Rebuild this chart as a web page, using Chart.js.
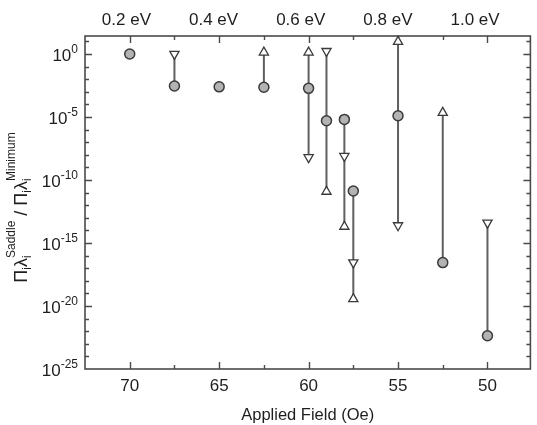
<!DOCTYPE html>
<html><head><meta charset="utf-8">
<script src="https://cdn.jsdelivr.net/npm/chart.js@4/dist/chart.umd.min.js"></script>
<style>html,body{margin:0;padding:0;background:#fff}#c{display:block}</style>
</head><body>
<canvas id="c" width="537" height="425"></canvas>
<script>
// ---- data ----
const fields = [70, 67.5, 65, 62.5, 60, 59, 58, 57.5, 55, 52.5, 50];           // Applied Field (Oe)
const ratioCircle = [1.0, 2.9e-3, 2.5e-3, 2.3e-3, 1.9e-3, 5.1e-6, 6.5e-6, 1.35e-11, 1.26e-5, 2.8e-17, 4.4e-23];
const ratioUp     = [null, null, null, 1.35, 1.35, 1.2e-11, 2.0e-14, 3.6e-20, 9.5, 2.2e-5, null];
const ratioDown   = [null, 1.0, null, null, 6.3e-9, 1.7, 7.9e-9, 2.8e-17, 2.5e-14, null, 4.0e-14];
const fieldTicks  = [70, 65, 60, 55, 50];
const energyTicks = [0.2, 0.4, 0.6, 0.8, 1.0];
const energyLabels = ['0.2 eV', '0.4 eV', '0.6 eV', '0.8 eV', '1.0 eV'];
const decadeExponents = [0, -5, -10, -15, -20, -25];
const xTitle = 'Applied Field (Oe)';

const FONT = '"Liberation Sans", Arial, Helvetica, sans-serif';
const TXT = '#1e1e1e';
const AX = '#4a4a4a';

function pts(arr) { return fields.map((f, i) => arr[i] == null ? null : { x: f, y: arr[i] }).filter(Boolean); }
const lineData = [];
fields.forEach((f, i) => {
  const vals = [ratioCircle[i], ratioUp[i], ratioDown[i]].filter(v => v != null);
  if (vals.length > 1) {
    lineData.push({ x: f, y: Math.min(...vals) }, { x: f, y: Math.max(...vals) }, { x: f, y: null });
  }
});

const decorPlugin = {
  id: 'decor',
  beforeDatasetsDraw(chart) {
    const { ctx, chartArea: a, scales } = chart;
    const x = scales.x, y = scales.y, xe = scales.xe;
    ctx.save();
    ctx.strokeStyle = AX; ctx.lineWidth = 1.6;
    ctx.strokeRect(a.left, a.top, a.right - a.left, a.bottom - a.top);
    ctx.lineWidth = 1.4;
    // x ticks top & bottom (inward)
    for (let v = 50; v <= 70.01; v += 2.5) {
      const px = Math.round(x.getPixelForValue(v)) + 0.5;
      const len = (Math.abs(v % 5) < 0.01) ? 7 : 4;
      ctx.beginPath();
      ctx.moveTo(px, a.bottom); ctx.lineTo(px, a.bottom - len);
      ctx.moveTo(px, a.top); ctx.lineTo(px, a.top + len);
      ctx.stroke();
    }
    // y ticks left & right (inward)
    for (let e = -24; e <= 1; e++) {
      const py = Math.round(y.getPixelForValue(Math.pow(10, e))) + 0.5;
      const len = (e % 5 === 0) ? 7 : 4;
      ctx.beginPath();
      ctx.moveTo(a.left, py); ctx.lineTo(a.left + len, py);
      ctx.moveTo(a.right, py); ctx.lineTo(a.right - len, py);
      ctx.stroke();
    }
    // bottom tick labels
    ctx.fillStyle = TXT;
    ctx.font = '17px ' + FONT;
    ctx.textAlign = 'center'; ctx.textBaseline = 'alphabetic';
    fieldTicks.forEach(v => ctx.fillText(String(v), x.getPixelForValue(v), a.bottom + 22));
    // top energy labels
    energyTicks.forEach((v, i) => ctx.fillText(energyLabels[i], xe.getPixelForValue(v), a.top - 11));
    // x title
    ctx.font = '16.5px ' + FONT;
    ctx.fillText(xTitle, (a.left + a.right) / 2, a.bottom + 51);
    // y tick labels 10^n
    decadeExponents.forEach(e => {
      const py = y.getPixelForValue(Math.pow(10, e));
      const supTxt = String(e);
      ctx.font = '12px ' + FONT;
      const wSup = ctx.measureText(supTxt).width;
      ctx.textAlign = 'left';
      const right = a.left - 7;
      ctx.fillText(supTxt, right - wSup, py - 1);
      ctx.font = '17px ' + FONT;
      ctx.textAlign = 'right';
      ctx.fillText('10', right - wSup, py + 7);
    });
    // y title with sub/superscripts
    const parts = [
      { m: 'Π' }, { sub: 'i' }, { m: 'λ' }, { sub: 'i', sup: 'Saddle' },
      { m: ' / ' },
      { m: 'Π' }, { sub: 'i' }, { m: 'λ' }, { sub: 'i', sup: 'Minimum' }
    ];
    const big = '18px ' + FONT, small = '12px ' + FONT;
    let total = 0;
    const widths = parts.map(p => {
      let w;
      if (p.m) { ctx.font = big; w = ctx.measureText(p.m).width; }
      else {
        ctx.font = small;
        w = Math.max(ctx.measureText(p.sub || '').width, ctx.measureText(p.sup || '').width);
      }
      total += w; return w;
    });
    ctx.translate(27, (a.top + a.bottom) / 2 + 5);
    ctx.rotate(-Math.PI / 2);
    ctx.textAlign = 'left';
    let cx = -total / 2;
    parts.forEach((p, i) => {
      if (p.m) { ctx.font = big; ctx.fillText(p.m, cx, 0); }
      else {
        ctx.font = small;
        if (p.sub) ctx.fillText(p.sub, cx, 4);
        if (p.sup) ctx.fillText(p.sup, cx, -12);
      }
      cx += widths[i];
    });
    ctx.restore();
  }
};

new Chart(document.getElementById('c'), {
  type: 'scatter',
  data: {
    datasets: [
      { type: 'line', label: 'range', data: lineData, showLine: true, spanGaps: false,
        borderColor: '#606060', borderWidth: 2, pointRadius: 0, fill: false, order: 3, clip: false },
      { label: 'upper', data: pts(ratioUp), pointStyle: 'triangle', pointRadius: 5.3,
        backgroundColor: '#ffffff', borderColor: '#3a3a3a', borderWidth: 1.3, order: 2, clip: false },
      { label: 'lower', data: pts(ratioDown), pointStyle: 'triangle', rotation: 180, pointRadius: 5.3,
        backgroundColor: '#ffffff', borderColor: '#3a3a3a', borderWidth: 1.3, order: 2, clip: false },
      { label: 'ratio', data: pts(ratioCircle), pointStyle: 'circle', pointRadius: 5,
        backgroundColor: '#b3b3b3', borderColor: '#3a3a3a', borderWidth: 1.5, order: 1, clip: false }
    ]
  },
  options: {
    responsive: false, animation: false, devicePixelRatio: 1,
    layout: { padding: { left: 85, right: 3, top: 36, bottom: 56 } },
    plugins: { legend: { display: false }, tooltip: { enabled: false } },
    elements: { point: { hoverRadius: 5 } },
    scales: {
      x: { type: 'linear', reverse: true, min: 47.6, max: 72.5, display: false },
      xe: { type: 'linear', axis: 'x', min: 0.105, max: 1.127, display: false },
      y: { type: 'logarithmic', min: 1e-25, max: 27, display: false }
    }
  },
  plugins: [decorPlugin]
});
</script>
</body></html>
